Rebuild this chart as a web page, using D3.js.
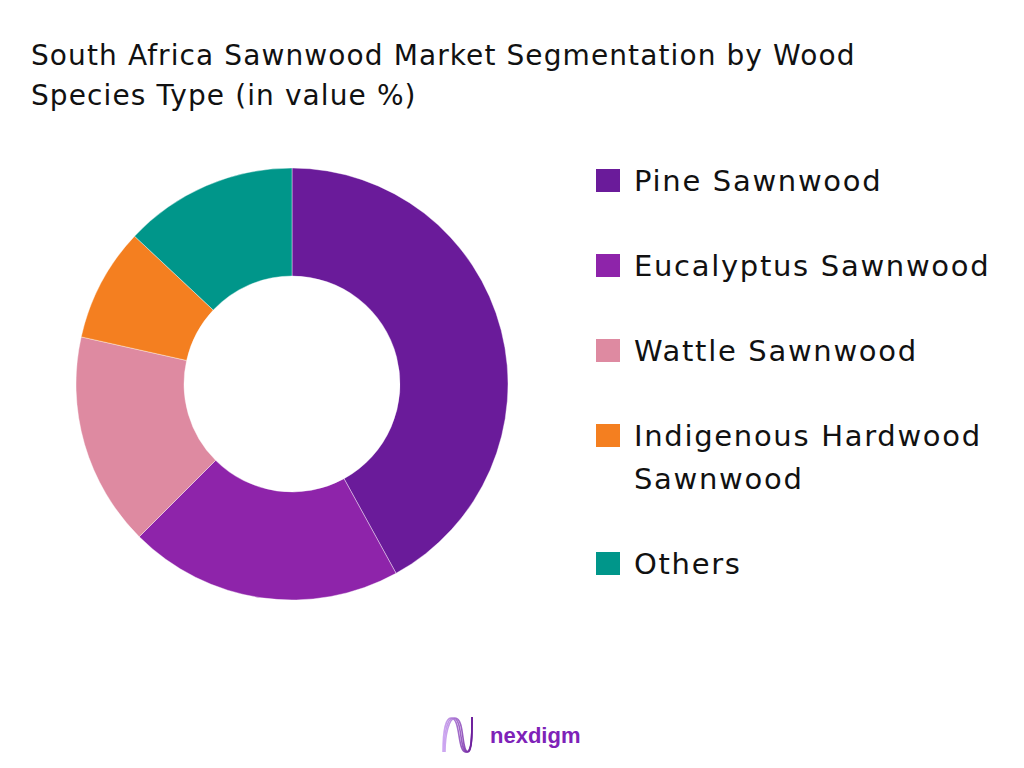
<!DOCTYPE html>
<html>
<head>
<meta charset="utf-8">
<script src="https://cdn.jsdelivr.net/npm/d3@7"></script>
<style>
  html, body { margin: 0; padding: 0; background: #ffffff; }
  svg { display: block; }
</style>
</head>
<body>
<svg id="chart" width="1024" height="768"></svg>
<script>
// ---- data ----
const categories = ["Pine Sawnwood", "Eucalyptus Sawnwood", "Wattle Sawnwood", "Indigenous Hardwood Sawnwood", "Others"];
const values = [42, 20.5, 16, 8.5, 13];
const legendLines = [["Pine Sawnwood"], ["Eucalyptus Sawnwood"], ["Wattle Sawnwood"], ["Indigenous Hardwood", "Sawnwood"], ["Others"]];
const colors = ["#6A1B9A", "#8E24AA", "#DE8AA1", "#F47F20", "#00968A"];
const titleLines = ["South Africa Sawnwood Market Segmentation by Wood", "Species Type (in value %)"];

const svg = d3.select("#chart");
const font = "'DejaVu Sans', sans-serif";

// title
svg.append("text")
  .attr("x", 31).attr("y", 65)
  .attr("font-family", font).attr("font-size", 28).attr("fill", "#111")
  .attr("letter-spacing", 1.1)
  .selectAll("tspan").data(titleLines).join("tspan")
  .attr("x", 31).attr("dy", (d, i) => i === 0 ? 0 : 40)
  .text(d => d);

// donut
const color = d3.scaleOrdinal().domain(categories).range(colors);
const pie = d3.pie().sort(null).value(d => d.value);
const arc = d3.arc().innerRadius(108).outerRadius(216);
const data = categories.map((c, i) => ({ name: c, value: values[i] }));

svg.append("g")
  .attr("transform", "translate(292,384)")
  .selectAll("path").data(pie(data)).join("path")
  .attr("d", arc)
  .attr("fill", d => color(d.data.name))
  .attr("stroke", "#ffffff").attr("stroke-width", 0.4);

// legend
let extra = 0;
const legend = svg.append("g");
categories.forEach((c, i) => {
  const y = 169 + 85 * i + 43 * extra;
  const g = legend.append("g").attr("transform", `translate(596,${y})`);
  g.append("rect").attr("width", 24).attr("height", 23).attr("fill", color(c));
  const t = g.append("text")
    .attr("font-family", font).attr("font-size", 29).attr("fill", "#111")
    .attr("letter-spacing", 1.7);
  legendLines[i].forEach((line, j) => {
    t.append("tspan").attr("x", 38).attr("y", 22 + 43 * j).text(line);
  });
  extra += legendLines[i].length - 1;
});

// logo
const defs = svg.append("defs");
const grad = defs.append("linearGradient").attr("id", "lg").attr("x1", "0").attr("x2", "1");
grad.append("stop").attr("offset", "0").attr("stop-color", "#C9A0F0");
grad.append("stop").attr("offset", "1").attr("stop-color", "#6A1B9A");
const logo = svg.append("g");
[0, 2, 4].forEach(o => {
  logo.append("path")
    .attr("d", `M${443 + o * 0.5},752 C${443 + o * 0.5},735 ${445 + o},718 ${451 + o},718 C${461 + o},718 ${457 + o},752 ${466 + o * 0.5},752 C${472},752 ${472},735 ${472},717`)
    .attr("fill", "none").attr("stroke", "url(#lg)").attr("stroke-width", 1.6).attr("opacity", 0.9);
});
svg.append("text")
  .attr("x", 490).attr("y", 743)
  .attr("font-family", "'Liberation Sans', Arial, sans-serif").attr("font-weight", "bold")
  .attr("font-size", 22).attr("fill", "#7E22B8")
  .text("nexdigm");
</script>
</body>
</html>
